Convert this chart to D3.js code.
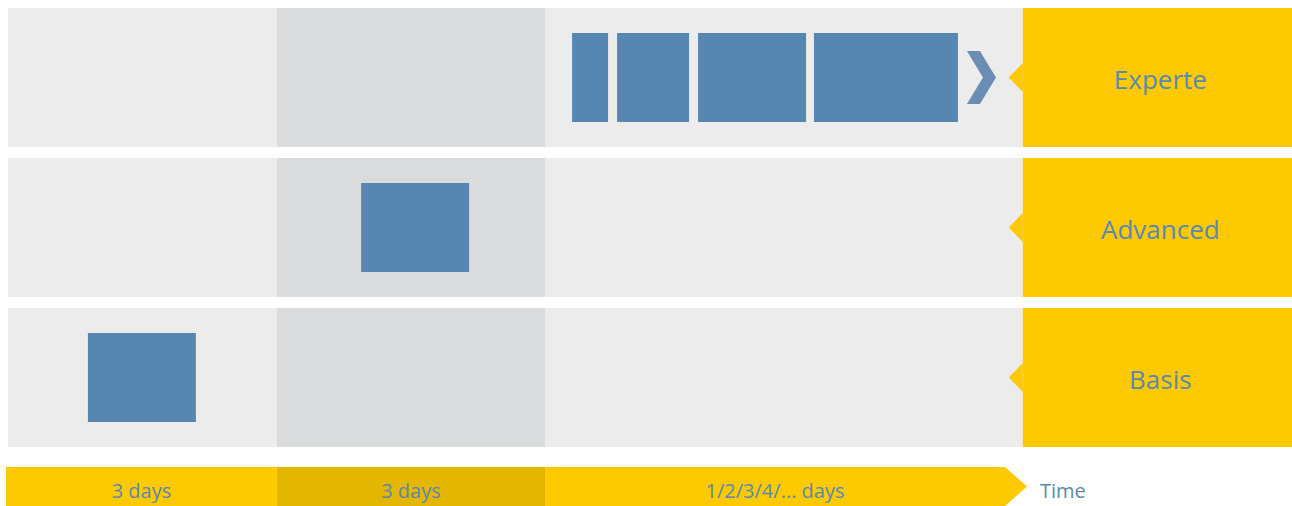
<!DOCTYPE html>
<html>
<head>
<meta charset="utf-8">
<script src="https://cdn.jsdelivr.net/npm/d3@7"></script>
<style>
  html, body { margin: 0; padding: 0; background: #ffffff; }
  svg { display: block; }
  text { font-family: "Open Sans", sans-serif; }
</style>
</head>
<body>
<div id="chart"></div>
<script>
// ---- data (schematic time units) ----
const levels = ["Experte", "Advanced", "Basis"];
const phaseLabels = ["3 days", "3 days", "1/2/3/4/... days"];
const phaseEnds = [7.47, 14.92, 28.19];   // end of each phase on the time axis
const axisEnd = 35.67;                      // end of level-label column
const blockLevel = ["Basis", "Advanced", "Experte", "Experte", "Experte", "Experte"];
const blockStart = [2.22, 9.81, 15.67, 16.92, 19.17, 22.39];
const blockLength = [3, 3, 1, 2, 3, 4];
const axisTitle = "Time";

// ---- layout ----
const W = 1292, H = 506;
const colors = {
  bgLight: "#ebeceb",
  bgDark: "#dadbdd",
  yellow: "#fdc900",
  yellowDark: "#e3b600",
  block: "#5787b0",
  chevron: "#6a8db3",
  text: "#5b88b1"
};

const svg = d3.select("#chart").append("svg")
  .attr("width", W).attr("height", H);

const x = d3.scaleLinear().domain([0, axisEnd]).range([8, 1292]);
const y = d3.scaleBand().domain(levels).range([8, 447]).paddingInner(11 / 150).paddingOuter(0);

const phaseStarts = [0].concat(phaseEnds.slice(0, -1));

// row backgrounds by phase
levels.forEach(lv => {
  const g = svg.append("g");
  g.selectAll("rect.bg").data(phaseEnds).join("rect")
    .attr("x", (d, i) => x(phaseStarts[i]))
    .attr("y", y(lv))
    .attr("width", (d, i) => x(d) - x(phaseStarts[i]))
    .attr("height", y.bandwidth())
    .attr("fill", (d, i) => i === 1 ? colors.bgDark : colors.bgLight);

  // yellow label box
  const lx = x(phaseEnds[phaseEnds.length - 1]);
  const cy = y(lv) + y.bandwidth() / 2;
  g.append("rect")
    .attr("x", lx).attr("y", y(lv))
    .attr("width", x(axisEnd) - lx).attr("height", y.bandwidth())
    .attr("fill", colors.yellow);
  g.append("path")
    .attr("d", `M${lx},${cy - 14.5}L${lx - 14},${cy}L${lx},${cy + 14.5}Z`)
    .attr("fill", colors.yellow);
  g.append("text")
    .attr("x", (lx + x(axisEnd)) / 2 + 3)
    .attr("y", cy + 11.5)
    .attr("text-anchor", "middle")
    .attr("font-size", 26)
    .attr("fill", colors.text)
    .text(lv);
});

// blocks
const inset = 25;
svg.append("g").selectAll("rect").data(blockStart).join("rect")
  .attr("x", (d) => x(d))
  .attr("y", (d, i) => y(blockLevel[i]) + inset)
  .attr("width", (d, i) => x(d + blockLength[i]) - x(d))
  .attr("height", y.bandwidth() - 2 * inset)
  .attr("fill", colors.block);

// chevron after last block (continuation)
{
  const last = blockStart.length - 1;
  const cx0 = x(blockStart[last] + blockLength[last]) + 9;
  const cy = y(blockLevel[last]) + y.bandwidth() / 2;
  svg.append("path")
    .attr("d", `M${cx0},${cy - 26.5}L${cx0 + 13},${cy - 26.5}L${cx0 + 29},${cy}L${cx0 + 13},${cy + 26.5}L${cx0},${cy + 26.5}L${cx0 + 16},${cy}Z`)
    .attr("fill", colors.chevron);
}

// bottom time bar
const by0 = 467, by1 = 506, bcy = (by0 + by1) / 2;
const barEnd = 1005, tip = 1027;
const bar = svg.append("g");
bar.selectAll("path").data(phaseEnds).join("path")
  .attr("d", (d, i) => {
    const x0 = i === 0 ? x(0) - 2 : x(phaseStarts[i]);
    if (i === phaseEnds.length - 1) {
      return `M${x0},${by0}L${barEnd},${by0}L${tip},${bcy}L${barEnd},${by1}L${x0},${by1}Z`;
    }
    const x1 = x(d);
    return `M${x0},${by0}L${x1},${by0}L${x1},${by1}L${x0},${by1}Z`;
  })
  .attr("fill", (d, i) => i === 1 ? colors.yellowDark : colors.yellow);

bar.selectAll("text.ph").data(phaseLabels).join("text")
  .attr("class", "ph")
  .attr("x", (d, i) => {
    const x0 = i === 0 ? x(0) - 2 : x(phaseStarts[i]);
    const x1 = i === phaseLabels.length - 1 ? barEnd : x(phaseEnds[i]);
    return (x0 + x1) / 2;
  })
  .attr("y", 498)
  .attr("text-anchor", "middle")
  .attr("font-size", 20)
  .attr("fill", colors.text)
  .text(d => d);

bar.append("text")
  .attr("x", 1040).attr("y", 498)
  .attr("font-size", 20)
  .attr("fill", colors.text)
  .text(axisTitle);
</script>
</body>
</html>
